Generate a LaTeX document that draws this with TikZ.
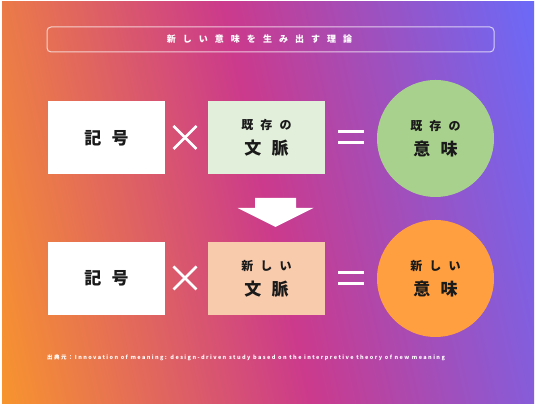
\documentclass[tikz,border=0pt]{standalone}
\usepackage{fontspec}
\setmainfont{Noto Sans CJK JP}
\newfontfamily\jpwide{Noto Sans CJK JP}[LetterSpace=60]
\newfontfamily\jptitle{Noto Sans CJK JP}[LetterSpace=78]
\newfontfamily\jpnote{Noto Sans CJK JP}[LetterSpace=26]
\definecolor{bgorange}{HTML}{F8952D}
\definecolor{bgmagenta}{HTML}{CB3A8C}
\definecolor{bgblue}{HTML}{6A6AF9}
\definecolor{ctxold}{HTML}{E2EFDA}
\definecolor{ctxnew}{HTML}{F8CBAD}
\definecolor{mnold}{HTML}{A9D18E}
\definecolor{mnnew}{HTML}{FF9F40}
\definecolor{ink}{HTML}{1A1A1A}
\pgfdeclarehorizontalshading{bgshade}{100bp}{color(0bp)=(bgorange); color(25bp)=(bgorange); color(50bp)=(bgmagenta); color(75bp)=(bgblue); color(100bp)=(bgblue)}
\newcommand\uptxt{\fontsize{12}{14}\selectfont}
\newcommand\lowtxt{\fontsize{17}{19}\selectfont}

\begin{document}
\begin{tikzpicture}[x=1pt,y=1pt,
  titlebox/.style={draw=white, draw opacity=0.7, line width=1pt, rounded corners=4pt,
    minimum width=447pt, minimum height=25pt, inner sep=0pt, text=white,
    font=\jptitle\bfseries\fontsize{9}{9}\selectfont},
  signbox/.style={fill=white, minimum width=117pt, minimum height=73pt, inner sep=0pt,
    text=ink, font=\jpwide\bfseries\fontsize{17}{17}\selectfont},
  ctxbox/.style={minimum width=117pt, minimum height=73pt, inner sep=0pt, align=center,
    text=ink, font=\jpwide\bfseries},
  meaning/.style={circle, minimum size=117pt, inner sep=0pt, align=center,
    text=ink, font=\jpwide\bfseries},
  opline/.style={draw=white, line width=2.5pt},
  eqline/.style={draw=white, line width=3pt}]
\useasboundingbox (0,0) rectangle (536,406);
\fill[white] (0,0) rectangle (536,406);
% background
\begin{scope}
\clip (2,2) rectangle (534,404);
\shade[shading=bgshade, shading angle=12.5] (-37.5,-102.5) rectangle (573.5,508.5);
\end{scope}

\node[titlebox] (title) at (270.5,366.5) {新しい意味を生み出す理論\hspace*{22pt}};

% existing meaning
\node[signbox] (sign1) at (106.5,268) {記号};
\node[ctxbox, fill=ctxold] (ctx1) at (266.5,268) {\uptxt 既存の\\[8pt]\lowtxt 文脈};
\node[meaning, fill=mnold] (mean1) at (435.5,267.5) {\uptxt 既存の\\[8pt]\lowtxt 意味};
\coordinate (times1) at (185,268.5);
\coordinate (eq1) at (351,268.5);
\draw[opline] ([shift={(-11.5,-11.5)}]times1) -- ([shift={(11.5,11.5)}]times1);
\draw[opline] ([shift={(-11.5,11.5)}]times1) -- ([shift={(11.5,-11.5)}]times1);
\draw[eqline] ([shift={(-13,5.5)}]eq1) -- ([shift={(13,5.5)}]eq1);
\draw[eqline] ([shift={(-13,-5.5)}]eq1) -- ([shift={(13,-5.5)}]eq1);

% arrow
\coordinate (arr) at (275.5,179);
\fill[white] ([shift={(-20.5,29)}]arr) -- ([shift={(20.5,29)}]arr) -- ([shift={(20.5,19)}]arr)
  -- ([shift={(38,19)}]arr) -- (arr) -- ([shift={(-38,19)}]arr) -- ([shift={(-20.5,19)}]arr) -- cycle;

% new meaning
\node[signbox] (sign2) at (106.5,127.5) {記号};
\node[ctxbox, fill=ctxnew] (ctx2) at (266.5,127.5) {\uptxt 新しい\\[8pt]\lowtxt 文脈};
\node[meaning, fill=mnnew] (mean2) at (435.5,127.5) {\uptxt 新しい\\[8pt]\lowtxt 意味};
\coordinate (times2) at (185,128);
\coordinate (eq2) at (351,128);
\draw[opline] ([shift={(-11.5,-11.5)}]times2) -- ([shift={(11.5,11.5)}]times2);
\draw[opline] ([shift={(-11.5,11.5)}]times2) -- ([shift={(11.5,-11.5)}]times2);
\draw[eqline] ([shift={(-13,5.5)}]eq2) -- ([shift={(13,5.5)}]eq2);
\draw[eqline] ([shift={(-13,-5.5)}]eq2) -- ([shift={(13,-5.5)}]eq2);

\node[anchor=west, inner sep=0pt, text=white, font=\jpnote\bfseries\fontsize{5.5}{5.5}\selectfont]
  (src) at (47,48) {出典元：Innovation of meaning: design-driven study based on the interpretive theory of new meaning};
\end{tikzpicture}
\end{document}
